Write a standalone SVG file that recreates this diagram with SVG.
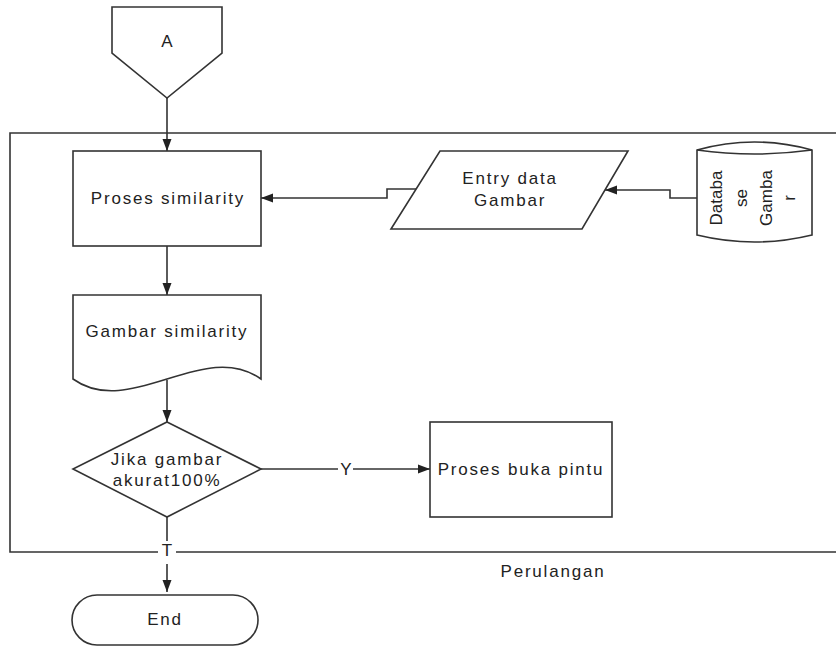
<svg xmlns="http://www.w3.org/2000/svg" width="836" height="647" viewBox="0 0 836 647">
  <style>
    .shape { fill: #ffffff; stroke: #333333; stroke-width: 1.6; }
    .line { fill: none; stroke: #333333; stroke-width: 1.6; }
    .lbl { font-family: "Liberation Sans", Arial, sans-serif; font-size: 17px; fill: #222222; text-anchor: middle; letter-spacing: 1.8px; }
    .vlbl { font-family: "Liberation Sans", Arial, sans-serif; font-size: 17px; fill: #222222; text-anchor: middle; }
  </style>
  <defs>
    <marker id="arrow" markerUnits="userSpaceOnUse" markerWidth="12" markerHeight="12" viewBox="0 0 12 12" refX="12" refY="6" orient="auto">
      <path d="M0,1.5 L12,6 L0,10.5 Z" fill="#222222"/>
    </marker>
  </defs>

  <rect width="836" height="647" fill="#ffffff"/>

  <!-- loop frame -->
  <g id="loop">
    <path class="line" d="M840,133 H10 V552 H840"/>
    <text class="lbl" x="553" y="577">Perulangan</text>
  </g>

  <!-- connectors -->
  <g id="connectors">
    <path class="line" d="M167,98 V151" marker-end="url(#arrow)"/>
    <path class="line" d="M416,189 H387 V198 H261" marker-end="url(#arrow)"/>
    <path class="line" d="M697,198 H670 V190 H605" marker-end="url(#arrow)"/>
    <path class="line" d="M167,246 V295" marker-end="url(#arrow)"/>
    <path class="line" d="M167,380 V422" marker-end="url(#arrow)"/>
    <path class="line" d="M261,469 H338"/>
    <path class="line" d="M353,469 H430" marker-end="url(#arrow)"/>
    <text class="lbl" x="346" y="475" style="letter-spacing:0">Y</text>
    <path class="line" d="M167,517 V543"/>
    <rect x="158" y="541" width="18" height="17" fill="#ffffff"/>
    <text class="lbl" x="167" y="556" style="letter-spacing:0">T</text>
    <path class="line" d="M167,564 V592" marker-end="url(#arrow)"/>
  </g>

  <!-- off-page connector A -->
  <g id="conn-a">
    <path class="shape" d="M112,7 H222 V53 L167,98 L112,53 Z"/>
    <text class="vlbl" x="167" y="47">A</text>
  </g>

  <!-- process: similarity -->
  <g id="proses-similarity">
    <rect class="shape" x="73" y="151" width="188" height="95"/>
    <text class="lbl" x="168" y="204">Proses similarity</text>
  </g>

  <!-- input: image entry -->
  <g id="entry-data">
    <path class="shape" d="M440,151 H628 L582,229 H391 Z"/>
    <text class="lbl" x="510" y="184">Entry data</text>
    <text class="lbl" x="510" y="206">Gambar</text>
  </g>

  <!-- image database -->
  <g id="database">
    <path class="shape" d="M697,150 Q754.5,134 812,150 V235 Q754.5,249 697,235 Z"/>
    <path class="line" d="M697,150 Q754.5,158 812,150"/>
    <text class="vlbl" transform="translate(722,198) rotate(-90)">Databa</text>
    <text class="vlbl" transform="translate(747,198) rotate(-90)">se</text>
    <text class="vlbl" transform="translate(772,198) rotate(-90)">Gamba</text>
    <text class="vlbl" transform="translate(795,198) rotate(-90)">r</text>
  </g>

  <!-- document: similar image -->
  <g id="gambar-similarity">
    <path class="shape" d="M73,295 H261 V379 C204,338 130,420 73,379 Z"/>
    <text class="lbl" x="167" y="337">Gambar similarity</text>
  </g>

  <!-- decision -->
  <g id="decision">
    <path class="shape" d="M167,422 L261,469 L167,517 L73,469 Z"/>
    <text class="lbl" x="167" y="465">Jika gambar</text>
    <text class="lbl" x="167" y="486">akurat100%</text>
  </g>

  <!-- process: open door -->
  <g id="buka-pintu">
    <rect class="shape" x="430" y="422" width="182" height="95"/>
    <text class="lbl" x="521" y="475">Proses buka pintu</text>
  </g>

  <!-- terminator -->
  <g id="end">
    <rect class="shape" x="72" y="595" width="186" height="50" rx="25" ry="25"/>
    <text class="lbl" x="165" y="625">End</text>
  </g>
</svg>
